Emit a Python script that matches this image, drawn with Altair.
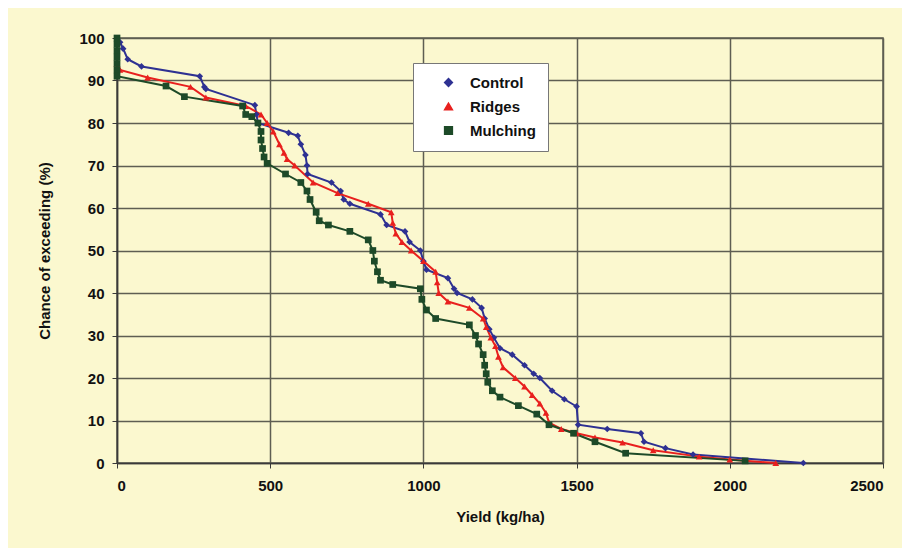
import altair as alt
import pandas as pd

# Control (blue diamonds)
control_yield = [10, 20, 35, 80, 270, 285, 290, 450, 455, 460, 560, 590, 600, 615, 620, 622,
                 700, 730, 740, 760, 860, 880, 940, 955, 990, 1000, 1010, 1080, 1100, 1110,
                 1160, 1190, 1200, 1215, 1230, 1250, 1290, 1330, 1360, 1380, 1420, 1460, 1500,
                 1505, 1600, 1710, 1720, 1790, 1880, 2240]
control_chance = [99, 97.5, 95, 93.3, 91, 88.5, 88, 84.2, 82, 80, 77.7, 77, 75, 72.5, 70, 68,
                  66, 64, 62, 61, 58.5, 56, 54.5, 52, 50, 47.5, 45.5, 43.5, 41, 40,
                  38.5, 36.5, 34, 31.5, 29.5, 27, 25.5, 23, 21, 20, 17, 15, 13.3,
                  9, 8, 7, 5, 3.5, 2, 0]

# Ridges (red triangles)
ridges_yield = [0, 10, 100, 240, 290, 420, 470, 490, 510, 530, 545, 555, 580, 640, 720, 820,
                895, 900, 910, 930, 960, 1000, 1040, 1045, 1050, 1080, 1150, 1195, 1205, 1220,
                1235, 1245, 1260, 1300, 1330, 1355, 1380, 1400, 1410, 1450, 1500, 1560, 1650,
                1750, 1900, 2000, 2150]
ridges_chance = [94, 92.5, 90.7, 88.5, 86, 84, 82, 80, 78, 75, 73, 71.5, 70, 66, 63.5, 61,
                 59, 56.5, 54, 52, 50, 47.5, 45, 42.5, 40, 38, 36.5, 34, 32, 29.5,
                 27.5, 25, 22.5, 20, 18, 16, 14, 11.8, 9.5, 8, 7, 6, 4.8,
                 3, 1.5, 0.8, 0]

# Mulching (green squares)
mulching_yield = [0, 0, 0, 0, 0, 0, 0, 160, 220, 410, 420, 440, 460, 470, 470, 475, 480, 490,
                  550, 600, 620, 630, 650, 660, 690, 760, 820, 835, 840, 850, 860, 900, 990,
                  995, 1010, 1040, 1150, 1170, 1180, 1195, 1200, 1205, 1210, 1225, 1250, 1310,
                  1370, 1410, 1490, 1560, 1660, 2050]
mulching_chance = [100, 98.5, 97, 95.5, 94, 92.5, 91, 88.7, 86.2, 84, 82, 81.5, 80, 78, 76, 74, 72, 70.5,
                   68, 66, 64, 62, 59, 57, 56, 54.5, 52.5, 50, 47.5, 45, 43, 42, 41,
                   38.5, 36, 34, 32.5, 30, 28, 25.5, 23, 21, 19, 17, 15.5, 13.5,
                   11.5, 9, 7, 5, 2.3, 0.5]

series_names = ["Control", "Ridges", "Mulching"]
series_colors = ["#2E3192", "#E8201E", "#1D4A28"]
series_shapes = ["diamond", "triangle-up", "square"]

rows = []
for name, ys, cs in [("Control", control_yield, control_chance),
                     ("Ridges", ridges_yield, ridges_chance),
                     ("Mulching", mulching_yield, mulching_chance)]:
    for i, (y, c) in enumerate(zip(ys, cs)):
        rows.append({"Series": name, "Yield": y, "Chance": c, "idx": i})
df = pd.DataFrame(rows)

x_enc = alt.X("Yield:Q", title="Yield (kg/ha)",
              scale=alt.Scale(domain=[0, 2500], nice=False),
              axis=alt.Axis(values=[0, 500, 1000, 1500, 2000, 2500], format="d",
                            labelPadding=10, titlePadding=16))
y_enc = alt.Y("Chance:Q", title="Chance of exceeding (%)",
              scale=alt.Scale(domain=[0, 100], nice=False),
              axis=alt.Axis(values=list(range(0, 101, 10)), format="d", labelPadding=8,
                            titlePadding=26))

legend = alt.Legend(orient="none", legendX=296, legendY=25, title=None,
                    fillColor="#FFFFFF", strokeColor="#777777", padding=12,
                    labelFont="Liberation Sans", labelFontWeight="bold", labelFontSize=15,
                    labelColor="#111111", symbolSize=60, rowPadding=8,
                    symbolStrokeWidth=1.5, symbolOffset=16, labelOffset=14)

color_scale = alt.Scale(domain=series_names, range=series_colors)
shape_scale = alt.Scale(domain=series_names, range=series_shapes)

lines = alt.Chart(df).mark_line(strokeWidth=2, clip=False).encode(
    x=x_enc, y=y_enc,
    color=alt.Color("Series:N", scale=color_scale, sort=series_names, legend=legend),
    detail="Series:N", order="idx:Q")

points = alt.Chart(df).mark_point(filled=True, size=45, opacity=1, clip=False).encode(
    x=x_enc, y=y_enc,
    color=alt.Color("Series:N", scale=color_scale, sort=series_names, legend=legend),
    shape=alt.Shape("Series:N", scale=shape_scale, sort=series_names, legend=legend))

chart = alt.layer(lines, points).properties(
    width=766, height=425,
    autosize=alt.AutoSizeParams(type="none"),
    padding={"left": 109, "top": 30, "right": 19, "bottom": 85},
    background="#FBF8CF",
).configure_view(
    fill="#FBF8CF", stroke="#5E5E52", strokeWidth=1.5
).configure_axis(
    grid=True, gridColor="#5E5E52", gridWidth=1.5, gridOpacity=1,
    domainColor="#3A3A3A", domainWidth=1.5, tickColor="#3A3A3A", tickSize=5,
    labelFont="Liberation Sans", labelFontWeight="bold", labelFontSize=15, labelColor="#111111",
    titleFont="Liberation Sans", titleFontWeight="bold", titleFontSize=15, titleColor="#111111",
)

chart.save("out.html", embed_options={"renderer": "svg", "actions": False})
